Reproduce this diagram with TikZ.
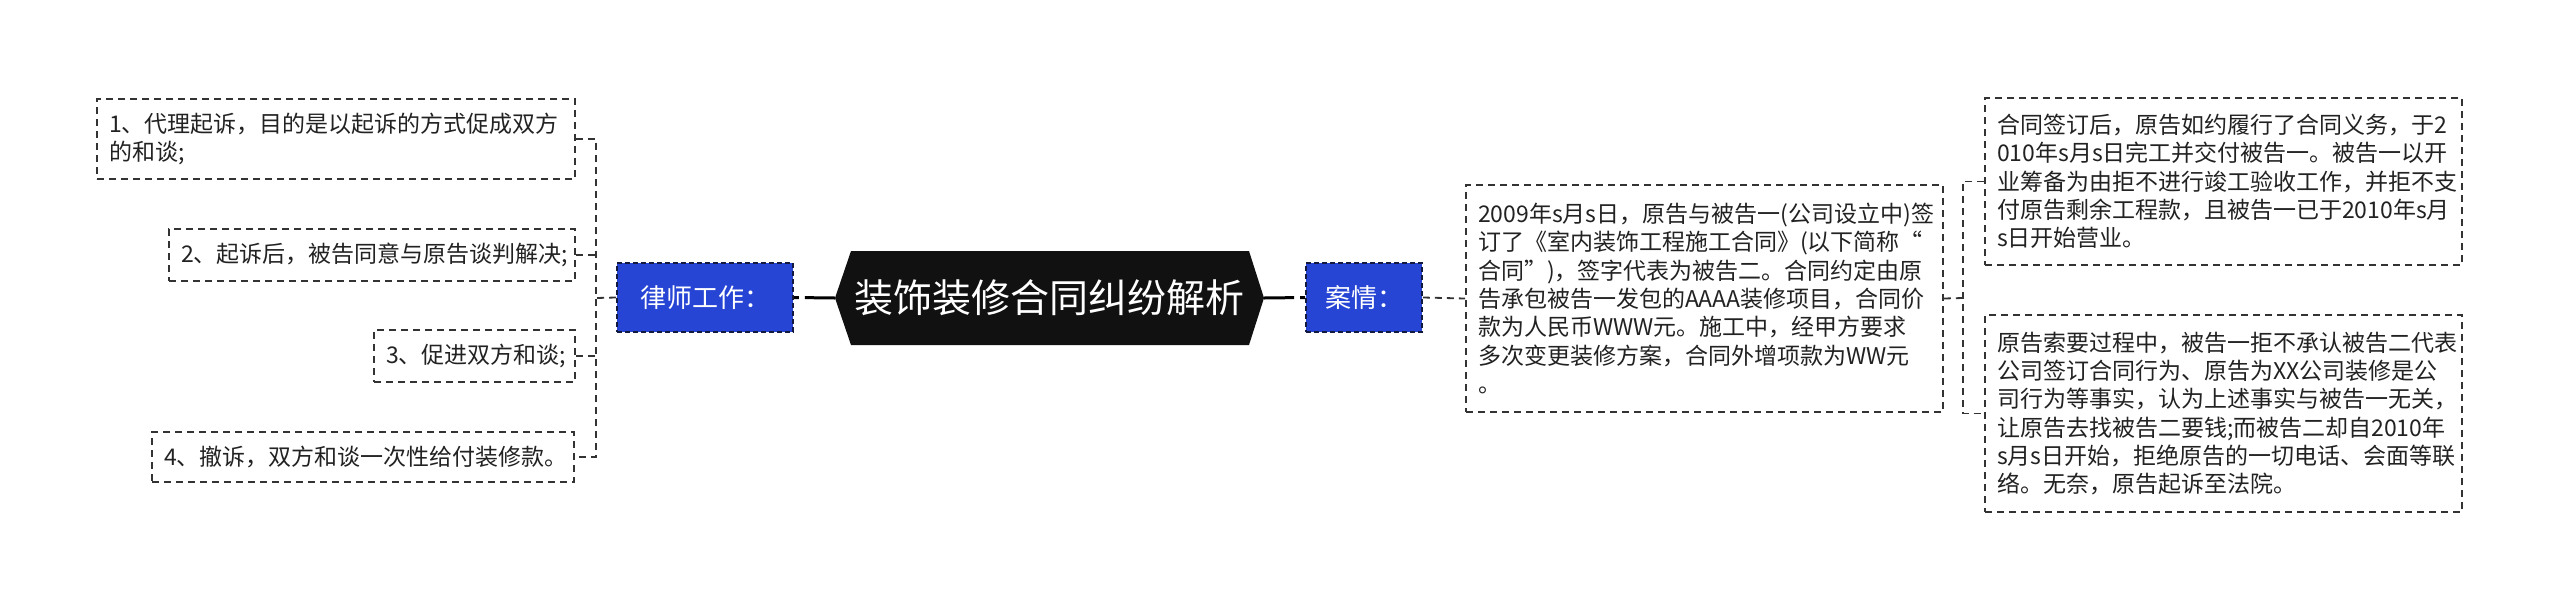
\documentclass[tikz,border=0pt]{standalone}
\usepackage{fontspec}
\newfontfamily\cjk{Noto Sans CJK SC}
\definecolor{nodeblue}{HTML}{2745D5}
\definecolor{navyline}{HTML}{121A40}
\definecolor{boxline}{HTML}{333333}
\definecolor{txt}{HTML}{222222}
\definecolor{hexfill}{HTML}{111111}
\begin{document}
\begin{tikzpicture}[x=1pt,y=-1pt,
  txtbox/.style={draw=boxline, line width=1.8pt, dash pattern=on 7pt off 5pt,
    text=txt, font=\cjk\fontsize{23}{28.3}\selectfont, align=left,
    inner xsep=12pt, inner ysep=0pt, anchor=center},
  bluebox/.style={fill=nodeblue, draw=navyline, line width=1.8pt, dash pattern=on 5pt off 3pt,
    text=white, font=\cjk\fontsize{26}{30}\selectfont, minimum height=69pt, inner sep=0pt},
  centertext/.style={text=white, font=\cjk\fontsize{39}{45}\selectfont,
    minimum width=429pt, minimum height=94pt, inner sep=0pt},
  conn/.style={draw=boxline, line width=1.8pt, dash pattern=on 7pt off 5pt},
  trunk/.style={draw=black, line width=3pt, dash pattern=on 30pt off 6pt}
]
\useasboundingbox[fill=white] (0,0) rectangle (2560,611);

% central hexagon
\fill[hexfill] (835,298) -- (851,251) -- (1249,251) -- (1264,298) -- (1249,345) -- (851,345) -- cycle;
\node[centertext] (c) at (1049.5,298) {装饰装修合同纠纷解析};

% branch labels
\node[bluebox, minimum width=176pt] (law) at (705,297.5) {律师工作：};
\node[bluebox, minimum width=116pt] (case) at (1364,297.5) {案情：};

% left leaves
\node[txtbox, text width=454pt, minimum height=80pt] (L1) at (336,139)
  {1、代理起诉，目的是以起诉的方式促成双方\\的和谈;};
\node[txtbox, text width=382pt, minimum height=52pt] (L2) at (372,255)
  {2、起诉后，被告同意与原告谈判解决;};
\node[txtbox, text width=177pt, minimum height=52pt] (L3) at (474.5,356)
  {3、促进双方和谈;};
\node[txtbox, text width=398pt, minimum height=50pt] (L4) at (363,457)
  {4、撤诉，双方和谈一次性给付装修款。};

% case description
\node[txtbox, text width=453pt, minimum height=227pt] (D) at (1704.5,298.5)
  {2009年s月s日，原告与被告一(公司设立中)签\\
   订了《室内装饰工程施工合同》(以下简称“\\
   合同”)，签字代表为被告二。合同约定由原\\
   告承包被告一发包的AAAA装修项目，合同价\\
   款为人民币WWW元。施工中，经甲方要求\\
   多次变更装修方案，合同外增项款为WW元\\
   。};

% right leaves
\node[txtbox, text width=453pt, minimum height=167pt] (R1) at (2223.5,181.5)
  {合同签订后，原告如约履行了合同义务，于2\\
   010年s月s日完工并交付被告一。被告一以开\\
   业筹备为由拒不进行竣工验收工作，并拒不支\\
   付原告剩余工程款，且被告一已于2010年s月\\
   s日开始营业。};
\node[txtbox, text width=453pt, minimum height=197pt] (R2) at (2223.5,413.5)
  {原告索要过程中，被告一拒不承认被告二代表\\
   公司签订合同行为、原告为XX公司装修是公\\
   司行为等事实，认为上述事实与被告一无关，\\
   让原告去找被告二要钱;而被告二却自2010年\\
   s月s日开始，拒绝原告的一切电话、会面等联\\
   络。无奈，原告起诉至法院。};

% junctions
\coordinate (lj) at (596,298);
\coordinate (rj) at (1963,298);

% trunk connectors
\draw[trunk] (c.west) -- (law.east);
\draw[trunk] (c.east) -- (case.west);

% left tree: one spine from L1 to L4, stubs for the rest
\draw[conn] (L1.east) -- (L1.east -| lj) -- (L4.east -| lj) -- (L4.east);
\draw[conn] (L2.east) -- (L2.east -| lj);
\draw[conn] (L3.east) -- (L3.east -| lj);
\draw[conn] (law.west) -- (lj);

% right tree
\draw[conn] (case.east) -- (D.west);
\draw[conn] (R1.west) -- (R1.west -| rj) -- (R2.west -| rj) -- (R2.west);
\draw[conn] (D.east) -- (rj);
\end{tikzpicture}
\end{document}
